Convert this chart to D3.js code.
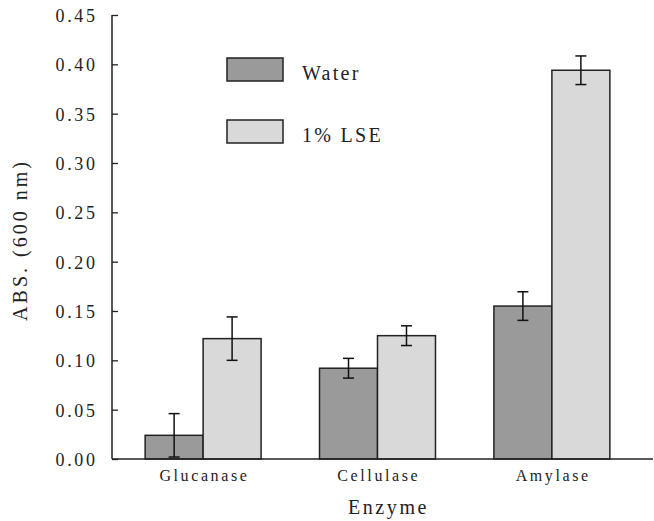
<!DOCTYPE html>
<html>
<head>
<meta charset="utf-8">
<script src="https://cdn.jsdelivr.net/npm/d3@7"></script>
</head>
<body style="margin:0">
<script>
const enzymes = ['Glucanase', 'Cellulase', 'Amylase'];
const series = ['Water', '1% LSE'];
const waterMeans = [0.024, 0.092, 0.155];
const waterErrors = [0.022, 0.010, 0.0145];
const lseMeans = [0.122, 0.125, 0.394];
const lseErrors = [0.022, 0.010, 0.0145];
const yTicks = [0, 0.05, 0.10, 0.15, 0.20, 0.25, 0.30, 0.35, 0.40, 0.45];

const FONT = "'Liberation Serif', 'Times New Roman', 'DejaVu Serif', serif";
const COLOURS = { 'Water': '#9a9a9a', '1% LSE': '#d9d9d9' };

const W = 654, H = 521;
const M = { left: 112, top: 15, bottom: 62, right: 1 };

function draw() {
    const rows = enzymes.map((e, i) => ({
        enzyme: e,
        values: [
            { key: 'Water', mean: waterMeans[i], err: waterErrors[i] },
            { key: '1% LSE', mean: lseMeans[i], err: lseErrors[i] }
        ]
    }));

    const svg = d3.select('body').append('svg')
        .attr('width', W)
        .attr('height', H)
        .style('font-family', FONT);

    const y = d3.scaleLinear()
        .domain([0, 0.45])
        .range([H - M.bottom, M.top]);

    const x0 = d3.scaleBand()
        .domain(enzymes)
        .range([M.left, 643])
        .paddingInner(0.335)
        .paddingOuter(0.19);

    const x1 = d3.scaleBand()
        .domain(series)
        .range([0, x0.bandwidth()]);

    // bars
    const groups = svg.append('g')
        .selectAll('g')
        .data(rows)
        .join('g')
        .attr('transform', d => 'translate(' + x0(d.enzyme) + ',0)');

    groups.selectAll('rect')
        .data(d => d.values)
        .join('rect')
        .attr('x', d => x1(d.key))
        .attr('y', d => y(d.mean))
        .attr('width', x1.bandwidth())
        .attr('height', d => y(0) - y(d.mean))
        .attr('fill', d => COLOURS[d.key])
        .attr('stroke', '#222')
        .attr('stroke-width', 1.5);

    // error bars
    const cap = 5.5;
    const mid = d => x1(d.key) + x1.bandwidth() / 2;
    const errs = groups.selectAll('g.err')
        .data(d => d.values)
        .join('g')
        .attr('class', 'err')
        .attr('stroke', '#111')
        .attr('stroke-width', 1.5);

    errs.append('line')
        .attr('x1', mid)
        .attr('x2', mid)
        .attr('y1', d => y(d.mean + d.err))
        .attr('y2', d => y(Math.max(0, d.mean - d.err)));

    errs.append('line')
        .attr('x1', d => mid(d) - cap)
        .attr('x2', d => mid(d) + cap)
        .attr('y1', d => y(d.mean + d.err))
        .attr('y2', d => y(d.mean + d.err));

    errs.append('line')
        .attr('x1', d => mid(d) - cap)
        .attr('x2', d => mid(d) + cap)
        .attr('y1', d => y(Math.max(0, d.mean - d.err)))
        .attr('y2', d => y(Math.max(0, d.mean - d.err)));

    // y axis, ticks point inward
    const yAxis = svg.append('g')
        .attr('transform', 'translate(' + M.left + ',0)')
        .call(d3.axisLeft(y).tickValues(yTicks).tickFormat(d3.format('.2f')).tickSize(-6).tickPadding(0))
        .attr('font-family', null)
        .attr('font-size', 18);
    yAxis.select('.domain').attr('stroke', '#222').attr('stroke-width', 1.5)
        .attr('d', 'M0,' + y(0.45) + 'V' + y(0));
    yAxis.selectAll('.tick line').attr('stroke', '#222').attr('stroke-width', 1.3);
    yAxis.selectAll('.tick text')
        .attr('x', -14.5)
        .attr('dy', '0.36em')
        .attr('font-size', 18)
        .attr('letter-spacing', 2.6)
        .style('font-family', FONT)
        .attr('fill', '#222');

    // x axis
    const xAxis = svg.append('g')
        .attr('transform', 'translate(0,' + y(0) + ')')
        .call(d3.axisBottom(x0).tickSize(0).tickPadding(11))
        .attr('font-family', null)
        .attr('font-size', 16);
    xAxis.select('.domain').attr('stroke', '#222').attr('stroke-width', 1.5)
        .attr('d', 'M' + M.left + ',0H' + (W - M.right));
    xAxis.selectAll('.tick text')
        .attr('dx', 1.3)
        .attr('font-size', 16)
        .attr('letter-spacing', 2.6)
        .style('font-family', FONT)
        .attr('fill', '#222');

    // axis titles
    svg.append('text')
        .attr('x', 388.5)
        .attr('y', 514)
        .attr('text-anchor', 'middle')
        .attr('font-size', 20)
        .attr('letter-spacing', 2.6)
        .style('font-family', FONT)
        .attr('fill', '#222')
        .text('Enzyme');

    svg.append('text')
        .attr('transform', 'translate(27,240) rotate(-90)')
        .attr('text-anchor', 'middle')
        .attr('font-size', 20)
        .attr('letter-spacing', 3)
        .style('font-family', FONT)
        .attr('fill', '#222')
        .text('ABS. (600 nm)');

    // legend
    const legend = svg.append('g')
        .selectAll('g')
        .data(series)
        .join('g')
        .attr('transform', (d, i) => 'translate(227,' + (58 + i * 62) + ')');

    legend.append('rect')
        .attr('width', 56)
        .attr('height', 23)
        .attr('fill', d => COLOURS[d])
        .attr('stroke', '#222')
        .attr('stroke-width', 1.5);

    legend.append('text')
        .attr('x', 75)
        .attr('y', 22)
        .attr('font-size', 20)
        .attr('letter-spacing', 2.3)
        .style('font-family', FONT)
        .attr('fill', '#222')
        .text(d => d);
}

if (document.fonts && document.fonts.load) {
    document.fonts.load("20px 'Liberation Serif'").then(draw, draw);
} else {
    draw();
}
</script>
</body>
</html>
